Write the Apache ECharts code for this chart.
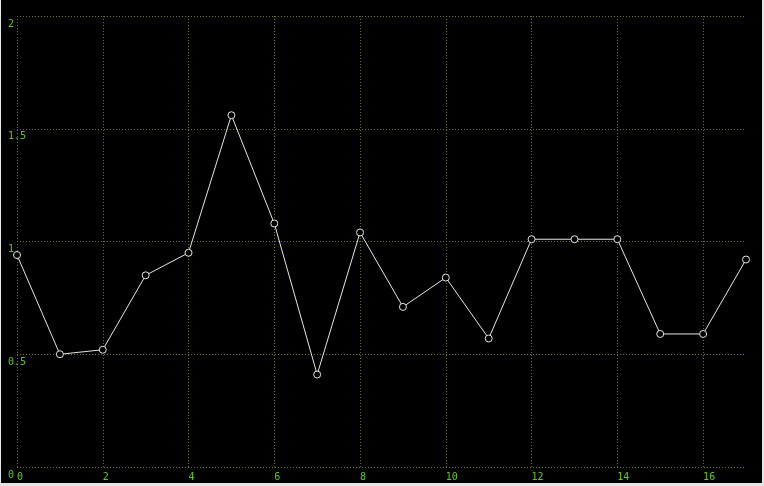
<!DOCTYPE html>
<html>
<head>
<meta charset="utf-8">
<script src="https://cdn.jsdelivr.net/npm/echarts@6/dist/echarts.min.js"></script>
<style>
  html, body { margin: 0; padding: 0; background: #e4e4e4; }
  #chart { position: absolute; left: 1px; top: 0; width: 761px; height: 483px; background: #000; }
</style>
</head>
<body>
<div id="chart"></div>
<script>
// values
const xValues = [0, 1, 2, 3, 4, 5, 6, 7, 8, 9, 10, 11, 12, 13, 14, 15, 16, 17];
const yValues = [0.94, 0.50, 0.52, 0.85, 0.95, 1.56, 1.08, 0.41, 1.04, 0.71, 0.84, 0.57, 1.01, 1.01, 1.01, 0.59, 0.59, 0.92];

const gridColor = '#777700';
const labelColor = '#5fc81e';

let points = xValues.map((x, i) => [x, yValues[i]]);

let myChart = echarts.init(document.getElementById('chart'));
let option = {
    backgroundColor: '#000',
    animation: false,
    grid: { left: 16, right: 16, top: 16, bottom: 16 },
    xAxis: {
        type: 'value',
        min: 0,
        max: 17,
        interval: 2,
        axisLine: { show: false },
        axisTick: { show: false },
        axisLabel: {
            color: labelColor,
            fontSize: 10,
            fontFamily: 'DejaVu Sans Mono',
            align: 'left',
            margin: 5,
            showMaxLabel: false
        },
        splitLine: {
            show: true,
            showMaxLine: false,
            lineStyle: { color: gridColor, type: [1, 2], width: 1 }
        }
    },
    yAxis: {
        type: 'value',
        min: 0,
        max: 2,
        interval: 0.5,
        axisLine: { show: false },
        axisTick: { show: false },
        axisLabel: {
            color: labelColor,
            fontSize: 10,
            fontFamily: 'DejaVu Sans Mono',
            align: 'left',
            verticalAlign: 'top',
            margin: 9,
            padding: [3, 0, 0, 0]
        },
        splitLine: { show: true, lineStyle: { color: gridColor, type: [1, 2], width: 1 } }
    },
    series: [{
        type: 'line',
        data: points,
        symbol: 'circle',
        symbolSize: 7,
        lineStyle: { color: '#e6e6e6', width: 1 },
        itemStyle: { color: '#000', borderColor: '#e6e6e6', borderWidth: 1 }
    }]
};
myChart.setOption(option);
</script>
</body>
</html>
